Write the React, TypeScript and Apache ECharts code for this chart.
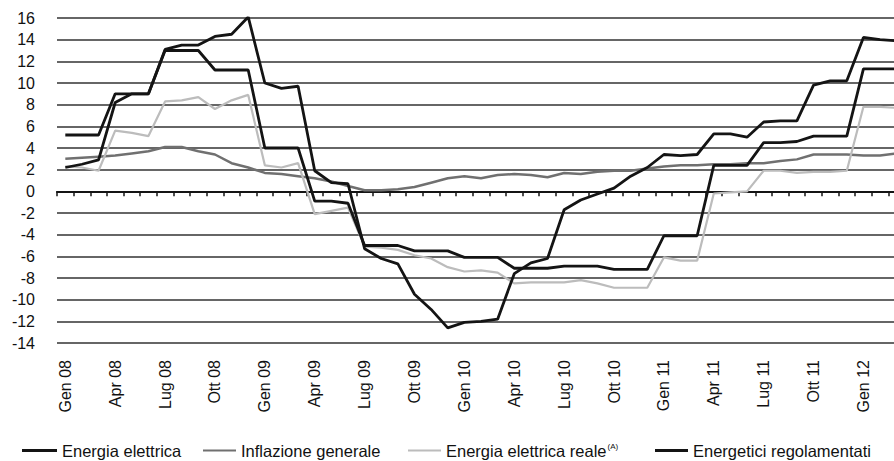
import React, { useEffect, useRef } from 'react';
import * as echarts from 'echarts';

const categories = [
  'Gen 08', 'Feb 08', 'Mar 08', 'Apr 08', 'Mag 08', 'Giu 08', 'Lug 08', 'Ago 08', 'Set 08', 'Ott 08', 'Nov 08', 'Dic 08',
  'Gen 09', 'Feb 09', 'Mar 09', 'Apr 09', 'Mag 09', 'Giu 09', 'Lug 09', 'Ago 09', 'Set 09', 'Ott 09', 'Nov 09', 'Dic 09',
  'Gen 10', 'Feb 10', 'Mar 10', 'Apr 10', 'Mag 10', 'Giu 10', 'Lug 10', 'Ago 10', 'Set 10', 'Ott 10', 'Nov 10', 'Dic 10',
  'Gen 11', 'Feb 11', 'Mar 11', 'Apr 11', 'Mag 11', 'Giu 11', 'Lug 11', 'Ago 11', 'Set 11', 'Ott 11', 'Nov 11', 'Dic 11',
  'Gen 12', 'Feb 12', 'Mar 12',
];

const energiaElettrica = [
  5.2, 5.2, 5.2, 9.0, 9.0, 9.0, 13.0, 13.0, 13.0, 11.2, 11.2, 11.2,
  4.0, 4.0, 4.0, -0.9, -0.9, -1.1, -5.0, -5.0, -5.0, -5.5, -5.5, -5.5,
  -6.1, -6.1, -6.1, -7.1, -7.1, -7.1, -6.9, -6.9, -6.9, -7.2, -7.2, -7.2,
  -4.1, -4.1, -4.1, 2.4, 2.4, 2.4, 4.5, 4.5, 4.6, 5.1, 5.1, 5.1,
  11.3, 11.3, 11.3,
];

const inflazioneGenerale = [
  3.0, 3.1, 3.2, 3.3, 3.5, 3.7, 4.1, 4.1, 3.7, 3.4, 2.6, 2.2,
  1.7, 1.6, 1.4, 1.2, 0.9, 0.5, 0.1, 0.1, 0.2, 0.4, 0.8, 1.2,
  1.4, 1.2, 1.5, 1.6, 1.5, 1.3, 1.7, 1.6, 1.8, 1.9, 1.9, 2.1,
  2.3, 2.4, 2.4, 2.5, 2.5, 2.6, 2.6, 2.8, 2.95, 3.4, 3.4, 3.4,
  3.3, 3.3, 3.5,
];

const energiaElettricaReale = [
  2.3, 2.2, 1.9, 5.6, 5.4, 5.1, 8.3, 8.4, 8.7, 7.6, 8.4, 8.9,
  2.4, 2.2, 2.6, -2.1, -1.8, -1.5, -5.1, -5.2, -5.4, -5.9, -6.2, -7.0,
  -7.4, -7.3, -7.5, -8.5, -8.4, -8.4, -8.4, -8.2, -8.5, -8.9, -8.9, -8.9,
  -6.1, -6.4, -6.4, -0.2, -0.1, 0.0, 1.9, 1.9, 1.7, 1.8, 1.8, 1.9,
  7.8, 7.8, 7.7,
];

const energeticiRegolamentati = [
  2.2, 2.5, 2.9, 8.2, 9.0, 9.0, 13.1, 13.5, 13.5, 14.3, 14.5, 16.1,
  10.0, 9.5, 9.7, 1.9, 0.8, 0.7, -5.3, -6.2, -6.7, -9.5, -10.9, -12.6,
  -12.1, -12.0, -11.8, -7.6, -6.6, -6.2, -1.7, -0.8, -0.25, 0.3, 1.4, 2.2,
  3.4, 3.3, 3.4, 5.3, 5.3, 5.0, 6.4, 6.5, 6.5, 9.8, 10.2, 10.2,
  14.2, 14.0, 13.9,
];

const FONT = '"Liberation Sans", Arial, sans-serif';
const BLACK = '#141414';
const DARK_GRAY = '#707070';
const LIGHT_GRAY = '#bcbcbc';

export default function App() {
  const ref = useRef<HTMLDivElement>(null);

  useEffect(() => {
    document.body.style.margin = '0';
    const chart = echarts.init(ref.current!, null, { renderer: 'svg' });
    const legendBase = {
      top: 442,
      padding: 0,
      itemGap: 0,
      icon: 'rect',
      itemWidth: 33,
      selectedMode: false,
      textStyle: { fontFamily: FONT, fontSize: 16.5, color: '#111' },
    };
    chart.setOption({
      animation: false,
      backgroundColor: '#ffffff',
      textStyle: { fontFamily: FONT },
      grid: { left: 57, right: 1, top: 18, bottom: 118, containLabel: false },
      legend: [
        { ...legendBase, left: 22, itemWidth: 35, itemHeight: 3, data: ['Energia elettrica'] },
        { ...legendBase, left: 203, itemHeight: 2, data: ['Inflazione generale'] },
        {
          ...legendBase,
          left: 408,
          itemHeight: 2,
          data: ['Energia elettrica reale'],
          formatter: (name: string) => `{a|${name}}{s|(A)}`,
          textStyle: {
            fontFamily: FONT,
            fontSize: 16.5,
            color: '#111',
            rich: {
              a: { fontFamily: FONT, fontSize: 16.5, color: '#111' },
              s: { fontFamily: FONT, fontSize: 8, color: '#111', verticalAlign: 'top', padding: [0, 0, 8, 1] },
            },
          },
        },
        { ...legendBase, left: 655, itemHeight: 3, data: ['Energetici regolamentati'] },
      ],
      xAxis: [
        {
          type: 'category',
          data: categories,
          boundaryGap: true,
          position: 'bottom',
          axisLine: { show: false, onZero: false },
          axisTick: { show: false },
          splitLine: { show: false },
          axisLabel: {
            rotate: 90,
            interval: 2,
            margin: 17,
            fontFamily: FONT,
            fontSize: 16,
            color: '#111',
          },
        },
        {
          type: 'category',
          data: categories,
          boundaryGap: true,
          position: 'top',
          axisLine: { show: true, onZero: true, lineStyle: { color: BLACK, width: 2 } },
          axisTick: { show: true, inside: true, interval: 0, length: 5, lineStyle: { color: BLACK, width: 1.5 } },
          axisLabel: { show: false },
          splitLine: { show: false },
        },
      ],
      yAxis: {
        type: 'value',
        min: -14,
        max: 16,
        interval: 2,
        axisLine: { show: false },
        axisTick: { show: false },
        axisLabel: { fontFamily: FONT, fontSize: 16, color: '#111', margin: 22 },
        splitLine: { show: true, lineStyle: { color: '#333333', width: 1.5 } },
      },
      series: [
        {
          name: 'Inflazione generale',
          type: 'line',
          xAxisIndex: 0,
          data: inflazioneGenerale,
          symbol: 'none',
          color: DARK_GRAY,
          lineStyle: { color: DARK_GRAY, width: 2.5 },
        },
        {
          name: 'Energia elettrica reale',
          type: 'line',
          xAxisIndex: 0,
          data: energiaElettricaReale,
          symbol: 'none',
          color: LIGHT_GRAY,
          lineStyle: { color: LIGHT_GRAY, width: 2.2 },
        },
        {
          name: 'Energia elettrica',
          type: 'line',
          xAxisIndex: 0,
          data: energiaElettrica,
          symbol: 'none',
          color: BLACK,
          lineStyle: { color: BLACK, width: 2.8 },
        },
        {
          name: 'Energetici regolamentati',
          type: 'line',
          xAxisIndex: 0,
          data: energeticiRegolamentati,
          symbol: 'none',
          color: BLACK,
          lineStyle: { color: BLACK, width: 2.8 },
        },
      ],
    });
    return () => chart.dispose();
  }, []);

  return (
    <div style={{ width: 894, height: 461, overflow: 'hidden', position: 'relative', background: '#fff' }}>
      <div ref={ref} style={{ width: 906, height: 461 }} />
    </div>
  );
}
